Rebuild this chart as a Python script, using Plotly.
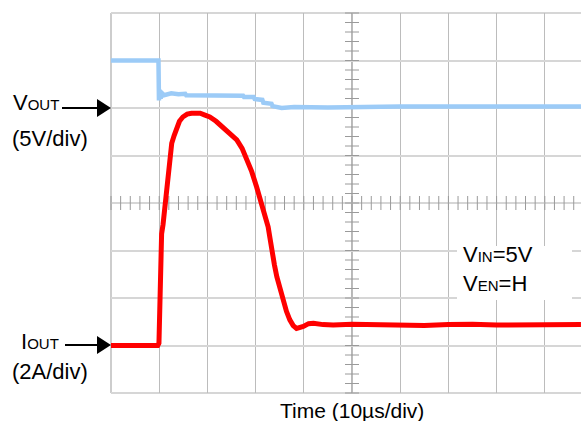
import plotly.graph_objects as go

# ---- data (time in µs, signal in screen divisions; 10 µs/div) ----
vout_t = [0, 9.85, 9.95, 10.05, 10.3, 10.6, 11.0, 12.5, 14.0, 15.4, 15.6, 20.0, 24.0, 27.4,
          27.6, 29.6, 29.8, 31.4, 31.6, 33.3, 33.5, 35.0, 35.4, 38.0, 45.0, 60.0, 80.0, 97.5]
vout_v = [3.0, 3.0, 2.16, 2.30, 2.20, 2.31, 2.27, 2.31, 2.29, 2.30, 2.27, 2.27, 2.26, 2.26,
          2.23, 2.23, 2.19, 2.17, 2.11, 2.09, 2.04, 2.02, 2.00, 2.02, 2.01, 2.03, 2.03, 2.03]

iout_t = [0, 9.7, 9.95, 10.05, 10.2, 10.35, 10.5, 10.8, 11.1, 11.4, 11.8, 12.2, 12.6, 13.1,
          13.6, 14.2, 14.9, 15.8, 16.7, 17.6, 18.5, 19.5, 20.5, 21.8, 23.2, 24.6, 26.1, 27.2,
          28.2, 29.2, 30.2, 30.9, 31.6, 32.1, 32.6, 33.0, 33.3, 33.9, 34.4, 35.0, 35.7, 36.4,
          37.1, 37.8, 38.5, 39.2, 39.9, 41.0, 42.0, 44.0, 46.1, 50.0, 55.0, 60.0, 65.0, 70.0,
          75.0, 80.0, 85.0, 90.0, 97.5]
iout_v = [-3.0, -3.0, -2.95, -2.4, -1.8, -1.15, -0.65, -0.45, -0.15, 0.2, 0.55, 0.85, 1.26,
          1.42, 1.6, 1.72, 1.81, 1.87, 1.89, 1.88, 1.89, 1.85, 1.81, 1.72, 1.6, 1.48, 1.33,
          1.15, 0.91, 0.66, 0.34, 0.1, -0.15, -0.3, -0.5, -0.75, -0.99, -1.3, -1.55, -1.78,
          -2.04, -2.28, -2.46, -2.58, -2.64, -2.62, -2.6, -2.54, -2.53, -2.56, -2.57, -2.55,
          -2.56, -2.57, -2.58, -2.56, -2.55, -2.57, -2.57, -2.56, -2.56]

# ---- layout geometry ----
W, H = 581, 421
ML, MR, MT, MB = 111, 0, 13, 28
PW, PH = W - ML - MR, H - MT - MB
DIV_X = 48.2   # px per horizontal division
X_MAX = PW / DIV_X * 10.0


def px(x):
    return (x - ML) / PW


def py(y):
    return (H - MB - y) / PH


FONT = "Liberation Sans, Arial, sans-serif"

fig = go.Figure()

# center axes minor ticks
minor_x = [i * 2.0 for i in range(int(X_MAX / 2) + 1)]
minor_y = [-4 + i * 0.2 for i in range(41)]
fig.add_trace(go.Scatter(x=minor_x, y=[0] * len(minor_x), mode="markers",
                         marker=dict(symbol="line-ns", size=10, line=dict(width=1, color="#9a9a9a")),
                         hoverinfo="skip", showlegend=False, cliponaxis=False))
fig.add_trace(go.Scatter(x=[50] * len(minor_y), y=minor_y, mode="markers",
                         marker=dict(symbol="line-ew", size=10, line=dict(width=1, color="#9a9a9a")),
                         hoverinfo="skip", showlegend=False, cliponaxis=False))

fig.add_trace(go.Scatter(x=vout_t, y=vout_v, mode="lines",
                         line=dict(color="#9ccbf7", width=4.5),
                         showlegend=False, hoverinfo="skip"))
fig.add_trace(go.Scatter(x=iout_t, y=iout_v, mode="lines",
                         line=dict(color="#ff0000", width=5),
                         showlegend=False, hoverinfo="skip"))

shapes = []
# border lines (left, top, bottom)
shapes.append(dict(type="line", xref="paper", yref="paper", x0=0, x1=0, y0=0, y1=1,
                   line=dict(color="#bcbcbc", width=1.5), layer="below"))
shapes.append(dict(type="line", xref="paper", yref="paper", x0=0, x1=1, y0=1, y1=1,
                   line=dict(color="#d6d6d6", width=2), layer="below"))
shapes.append(dict(type="line", xref="paper", yref="paper", x0=0, x1=1, y0=0, y1=0,
                   line=dict(color="#d6d6d6", width=2), layer="below"))
# center lines
shapes.append(dict(type="line", xref="x", yref="y", x0=0, x1=X_MAX, y0=0, y1=0,
                   line=dict(color="#a0a0a0", width=1.5), layer="below"))
shapes.append(dict(type="line", xref="x", yref="y", x0=50, x1=50, y0=-4, y1=4,
                   line=dict(color="#a0a0a0", width=1.5), layer="below"))
# white box behind VIN / VEN text
shapes.append(dict(type="rect", xref="paper", yref="paper",
                   x0=px(457), x1=px(572), y0=py(300), y1=py(246),
                   fillcolor="white", line=dict(width=0), layer="above"))
# arrows
for (x0, yc) in [(62, 108), (65, 345)]:
    shapes.append(dict(type="line", xref="paper", yref="paper",
                       x0=px(x0), x1=px(100), y0=py(yc), y1=py(yc),
                       line=dict(color="black", width=2)))
    shapes.append(dict(type="path", xref="paper", yref="paper",
                       path=f"M {px(97)} {py(yc - 9)} L {px(111)} {py(yc)} L {px(97)} {py(yc + 9)} Z",
                       fillcolor="black", line=dict(color="black", width=0)))

annotations = []


def label(x, y, text, size=22, xanchor="left"):
    annotations.append(dict(xref="paper", yref="paper", x=px(x), y=py(y), text=text,
                            showarrow=False, xanchor=xanchor, yanchor="middle",
                            font=dict(family=FONT, size=size, color="black")))


SMALL = "<span style='font-size:15px'>{}</span>"
label(11, 103, "V" + SMALL.format("OUT"))
label(10, 138, "(5V/div)")
label(19, 341, "I" + SMALL.format("OUT"))
label(10, 371, "(2A/div)")
label(351.5, 410, "Time (10µs/div)", size=21, xanchor="center")
label(461, 254, "V" + SMALL.format("IN") + "=5V")
label(461, 283, "V" + SMALL.format("EN") + "=H")

fig.update_layout(
    width=W, height=H,
    margin=dict(l=ML, r=MR, t=MT, b=MB, pad=0),
    paper_bgcolor="white", plot_bgcolor="white",
    shapes=shapes, annotations=annotations,
    xaxis=dict(range=[0, X_MAX], dtick=10, tick0=0, showgrid=True, gridcolor="#bcbcbc",
               gridwidth=1, zeroline=False, showticklabels=False, ticks="",
               showline=False, fixedrange=True),
    yaxis=dict(range=[-4, 4], dtick=1, tick0=0, showgrid=True, gridcolor="#d6d6d6",
               gridwidth=2, zeroline=False, showticklabels=False, ticks="",
               showline=False, fixedrange=True),
    font=dict(family=FONT),
)

fig.write_html("out.html", config={"displayModeBar": False})

# remove the browser's default page margin so the figure sits at the window origin
with open("out.html", "r", encoding="utf-8") as f:
    html = f.read()
html = html.replace("<head>", "<head><style>html,body{margin:0;padding:0;overflow:hidden;}</style>", 1)
with open("out.html", "w", encoding="utf-8") as f:
    f.write(html)
